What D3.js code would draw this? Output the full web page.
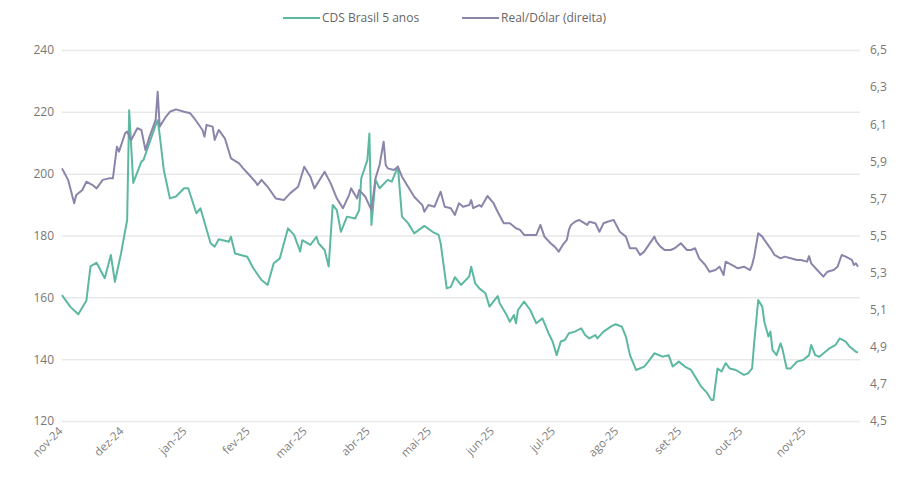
<!DOCTYPE html>
<html>
<head>
<meta charset="utf-8">
<script src="https://cdn.jsdelivr.net/npm/d3@7"></script>
<style>
  html, body { margin: 0; padding: 0; background: #fff; }
  svg { display: block; }
  text { font-family: "Open Sans", "Noto Sans", sans-serif; }
</style>
</head>
<body>
<svg id="chart" width="904" height="477"></svg>
<script>
const seriesNames = ["CDS Brasil 5 anos", "Real/Dólar (direita)"];
const leftTicks = [120, 140, 160, 180, 200, 220, 240];
const rightTicks = [4.5, 4.7, 4.9, 5.1, 5.3, 5.5, 5.7, 5.9, 6.1, 6.3, 6.5];
const monthTicks = ["2024-11-01","2024-12-01","2025-01-01","2025-02-01","2025-03-01","2025-04-01","2025-05-01","2025-06-01","2025-07-01","2025-08-01","2025-09-01","2025-10-01","2025-11-01"];
const monthLabels = ["nov-24","dez-24","jan-25","fev-25","mar-25","abr-25","mai-25","jun-25","jul-25","ago-25","set-25","out-25","nov-25"];

const cdsData = [
["2024-11-01",160.7],["2024-11-05",157],["2024-11-09",154.5],["2024-11-13",159],["2024-11-15",170],
["2024-11-18",171.2],["2024-11-22",166.2],["2024-11-25",173.7],["2024-11-27",165],["2024-11-30",174.2],
["2024-12-03",185],["2024-12-04",220.5],["2024-12-06",197],["2024-12-10",203.9],["2024-12-11",204.4],
["2024-12-17",215.7],["2024-12-18",217.3],["2024-12-19",212.5],["2024-12-21",201.2],["2024-12-24",192],
["2024-12-27",192.6],["2024-12-31",195.3],["2025-01-02",195.3],["2025-01-06",187.2],["2025-01-08",188.8],
["2025-01-13",177.5],["2025-01-15",176.4],["2025-01-17",178.8],["2025-01-22",178],["2025-01-23",179.6],
["2025-01-25",174.2],["2025-01-31",173.1],["2025-02-03",169.4],["2025-02-07",165.6],["2025-02-10",164],
["2025-02-13",171],["2025-02-16",172.6],["2025-02-20",182.3],["2025-02-23",180.2],["2025-02-26",174.8],
["2025-02-27",178.5],["2025-03-03",177],["2025-03-06",179.6],["2025-03-07",177.5],["2025-03-10",175.3],
["2025-03-12",170],["2025-03-14",189.9],["2025-03-16",188.2],["2025-03-18",181.2],["2025-03-21",186.1],
["2025-03-25",185.5],["2025-03-27",188.2],["2025-03-28",198.5],["2025-03-31",204.4],["2025-04-01",213],
["2025-04-02",183.4],["2025-04-04",198],["2025-04-06",195.3],["2025-04-10",198],["2025-04-12",197.4],
["2025-04-15",202.3],["2025-04-17",186.1],["2025-04-20",184],["2025-04-23",180.7],["2025-04-28",183.1],
["2025-05-02",181.2],["2025-05-05",180.2],["2025-05-06",177.5],["2025-05-09",162.9],["2025-05-11",163.4],
["2025-05-13",166.5],["2025-05-16",164],["2025-05-20",166.7],["2025-05-21",169.9],["2025-05-23",164.5],
["2025-05-25",162.9],["2025-05-28",161.3],["2025-05-30",157],["2025-06-03",160.4],["2025-06-04",158.1],
["2025-06-07",154.8],["2025-06-09",152.1],["2025-06-11",154.3],["2025-06-12",151.6],["2025-06-13",155.9],
["2025-06-16",158.6],["2025-06-19",155.9],["2025-06-22",151.6],["2025-06-25",153.2],["2025-06-28",148.4],
["2025-06-30",145.7],["2025-07-02",141.3],["2025-07-04",145.7],["2025-07-06",146.2],["2025-07-08",148.4],
["2025-07-11",148.9],["2025-07-14",150],["2025-07-16",147.8],["2025-07-18",146.7],["2025-07-21",147.8],
["2025-07-22",146.7],["2025-07-25",148.9],["2025-07-29",150.7],["2025-07-31",151.3],["2025-08-03",150.5],
["2025-08-05",147.3],["2025-08-07",141.3],["2025-08-10",136.5],["2025-08-14",137.6],["2025-08-16",139.2],
["2025-08-19",141.9],["2025-08-23",140.8],["2025-08-26",141.3],["2025-08-28",137.6],["2025-08-31",139.2],
["2025-09-03",137.6],["2025-09-06",136.5],["2025-09-09",133.3],["2025-09-11",131.1],["2025-09-14",129],
["2025-09-16",126.8],["2025-09-17",126.8],["2025-09-19",137],["2025-09-21",136],["2025-09-23",138.7],
["2025-09-25",137],["2025-09-28",136.5],["2025-10-02",134.9],["2025-10-04",135.4],["2025-10-06",137],
["2025-10-07",145.1],["2025-10-09",159.1],["2025-10-11",157],["2025-10-12",152.1],["2025-10-14",147.3],
["2025-10-15",148.9],["2025-10-16",143],["2025-10-18",141.3],["2025-10-20",145.1],["2025-10-21",143],
["2025-10-23",137],["2025-10-25",137],["2025-10-28",139.2],["2025-10-31",139.7],["2025-11-03",141.3],
["2025-11-04",144.6],["2025-11-06",141.3],["2025-11-08",140.8],["2025-11-11",142.4],["2025-11-13",143.5],
["2025-11-16",144.6],["2025-11-18",146.7],["2025-11-21",145.7],["2025-11-23",144],["2025-11-26",142.4],
["2025-11-27",142.1]
];

const fxData = [
["2024-11-01",5.862],["2024-11-04",5.80],["2024-11-07",5.674],["2024-11-08",5.718],["2024-11-11",5.745],
["2024-11-13",5.79],["2024-11-16",5.772],["2024-11-18",5.754],["2024-11-21",5.80],["2024-11-24",5.808],
["2024-11-26",5.808],["2024-11-28",5.979],["2024-11-29",5.952],["2024-12-02",6.051],["2024-12-03",6.06],
["2024-12-05",6.015],["2024-12-08",6.078],["2024-12-10",6.069],["2024-12-12",5.961],["2024-12-14",6.033],
["2024-12-17",6.123],["2024-12-18",6.275],["2024-12-19",6.087],["2024-12-22",6.14],["2024-12-24",6.167],
["2024-12-27",6.18],["2024-12-31",6.167],["2025-01-03",6.159],["2025-01-05",6.132],["2025-01-09",6.069],
["2025-01-10",6.033],["2025-01-11",6.096],["2025-01-14",6.087],["2025-01-15",6.015],["2025-01-17",6.069],
["2025-01-20",6.024],["2025-01-23",5.916],["2025-01-27",5.889],["2025-01-29",5.862],["2025-02-01",5.826],
["2025-02-04",5.79],["2025-02-05",5.772],["2025-02-07",5.80],["2025-02-10",5.763],["2025-02-14",5.70],
["2025-02-18",5.691],["2025-02-21",5.727],["2025-02-25",5.763],["2025-02-28",5.871],["2025-03-03",5.817],
["2025-03-05",5.754],["2025-03-10",5.844],["2025-03-13",5.781],["2025-03-16",5.70],["2025-03-19",5.647],
["2025-03-22",5.718],["2025-03-23",5.754],["2025-03-26",5.70],["2025-03-27",5.745],["2025-03-30",5.709],
["2025-04-02",5.637],["2025-04-04",5.808],["2025-04-06",5.88],["2025-04-08",6.006],["2025-04-09",5.88],
["2025-04-10",5.862],["2025-04-13",5.853],["2025-04-15",5.871],["2025-04-17",5.817],["2025-04-20",5.763],
["2025-04-23",5.709],["2025-04-27",5.664],["2025-04-28",5.628],["2025-04-30",5.664],["2025-05-03",5.655],
["2025-05-06",5.736],["2025-05-08",5.655],["2025-05-11",5.647],["2025-05-13",5.611],["2025-05-15",5.674],
["2025-05-17",5.655],["2025-05-20",5.664],["2025-05-21",5.691],["2025-05-22",5.647],["2025-05-25",5.664],
["2025-05-26",5.655],["2025-05-29",5.713],["2025-06-01",5.674],["2025-06-03",5.628],["2025-06-06",5.566],
["2025-06-09",5.566],["2025-06-12",5.539],["2025-06-14",5.53],["2025-06-16",5.503],["2025-06-20",5.503],
["2025-06-22",5.503],["2025-06-24",5.557],["2025-06-26",5.494],["2025-06-29",5.458],["2025-07-01",5.44],
["2025-07-03",5.413],["2025-07-05",5.449],["2025-07-07",5.476],["2025-07-08",5.53],["2025-07-09",5.557],
["2025-07-11",5.574],["2025-07-13",5.584],["2025-07-17",5.557],["2025-07-18",5.574],["2025-07-21",5.566],
["2025-07-23",5.52],["2025-07-25",5.566],["2025-07-27",5.574],["2025-07-30",5.584],["2025-08-02",5.52],
["2025-08-05",5.494],["2025-08-07",5.431],["2025-08-10",5.431],["2025-08-12",5.395],["2025-08-14",5.413],
["2025-08-19",5.494],["2025-08-20",5.467],["2025-08-22",5.44],["2025-08-24",5.422],["2025-08-27",5.422],
["2025-08-29",5.431],["2025-09-01",5.458],["2025-09-04",5.422],["2025-09-06",5.422],["2025-09-08",5.431],
["2025-09-10",5.377],["2025-09-13",5.341],["2025-09-15",5.305],["2025-09-18",5.314],["2025-09-20",5.332],
["2025-09-22",5.287],["2025-09-23",5.359],["2025-09-26",5.341],["2025-09-29",5.323],["2025-10-02",5.332],
["2025-10-05",5.314],["2025-10-06",5.341],["2025-10-07",5.386],["2025-10-09",5.512],["2025-10-11",5.494],
["2025-10-12",5.476],["2025-10-15",5.431],["2025-10-17",5.395],["2025-10-20",5.377],["2025-10-22",5.386],
["2025-10-25",5.377],["2025-10-28",5.368],["2025-10-30",5.368],["2025-11-02",5.359],["2025-11-03",5.389],
["2025-11-04",5.35],["2025-11-07",5.314],["2025-11-10",5.278],["2025-11-12",5.305],["2025-11-15",5.314],
["2025-11-17",5.332],["2025-11-19",5.395],["2025-11-21",5.386],["2025-11-24",5.368],["2025-11-25",5.341],
["2025-11-26",5.35],["2025-11-27",5.332]
];

const colors = ["#5db8a1", "#8c85ab"];
const parse = d3.utcParse("%Y-%m-%d");
const margin = {left: 62, right: 44, top: 50, bottom: 56};
const W = 904, H = 477;

const svg = d3.select("#chart");
const x = d3.scaleUtc()
  .domain([parse("2024-11-01"), parse("2025-11-28")])
  .range([margin.left, W - margin.right]);
const yL = d3.scaleLinear().domain([120, 240]).range([H - margin.bottom, margin.top]);
const yR = d3.scaleLinear().domain([4.5, 6.5]).range([H - margin.bottom, margin.top]);

// gridlines (left axis ticks)
const gridG = svg.append("g")
  .attr("transform", `translate(${margin.left},0)`)
  .call(d3.axisLeft(yL).tickValues(leftTicks).tickSize(-(W - margin.left - margin.right)).tickFormat(""));
gridG.select(".domain").remove();
gridG.selectAll(".tick line").attr("stroke", "#e9e9e9").attr("stroke-width", 1.5);

// left labels
const leftG = svg.append("g")
  .attr("transform", `translate(${margin.left - 8},0)`)
  .call(d3.axisLeft(yL).tickValues(leftTicks).tickSize(0).tickPadding(0).tickFormat(d3.format("d")));
leftG.select(".domain").remove();
leftG.selectAll("text").attr("fill", "#777").attr("font-size", 12).attr("font-family", "'Open Sans', sans-serif");

// right labels
const fmtComma = d => d.toFixed(1).replace(".", ",");
const rightG = svg.append("g")
  .attr("transform", `translate(${W - margin.right + 10},0)`)
  .call(d3.axisRight(yR).tickValues(rightTicks).tickSize(0).tickPadding(0).tickFormat(fmtComma));
rightG.select(".domain").remove();
rightG.selectAll("text").attr("fill", "#777").attr("font-size", 12).attr("font-family", "'Open Sans', sans-serif");

// x labels
const xG = svg.append("g")
  .attr("transform", `translate(0,${H - margin.bottom + 10})`)
  .call(d3.axisBottom(x).tickValues(monthTicks.map(parse)).tickSize(0).tickPadding(0)
    .tickFormat((d, i) => monthLabels[i]));
xG.select(".domain").remove();
xG.selectAll("text")
  .attr("fill", "#808080").attr("font-size", 11.5).attr("font-family", "'Open Sans', sans-serif")
  .attr("text-anchor", "end")
  .attr("y", 0)
  .attr("dy", "0.1em")
  .attr("transform", "rotate(-45)");

// lines
const lineL = d3.line().x(d => x(parse(d[0]))).y(d => yL(d[1]));
const lineR = d3.line().x(d => x(parse(d[0]))).y(d => yR(d[1]));

svg.append("path").datum(cdsData).attr("d", lineL)
  .attr("fill", "none").attr("stroke", colors[0]).attr("stroke-width", 2).attr("stroke-linejoin", "round");
svg.append("path").datum(fxData).attr("d", lineR)
  .attr("fill", "none").attr("stroke", colors[1]).attr("stroke-width", 2).attr("stroke-linejoin", "round");

// legend
const legend = svg.append("g");
const legendItems = [{x: 283, name: seriesNames[0], c: colors[0]}, {x: 462, name: seriesNames[1], c: colors[1]}];
legendItems.forEach(it => {
  legend.append("line").attr("x1", it.x).attr("x2", it.x + 37).attr("y1", 18).attr("y2", 18)
    .attr("stroke", it.c).attr("stroke-width", 2);
  legend.append("text").attr("x", it.x + 39).attr("y", 18).attr("dy", "0.35em")
    .attr("fill", "#666").attr("font-size", 12).attr("font-family", "'Open Sans', sans-serif")
    .text(it.name);
});
</script>
</body>
</html>
